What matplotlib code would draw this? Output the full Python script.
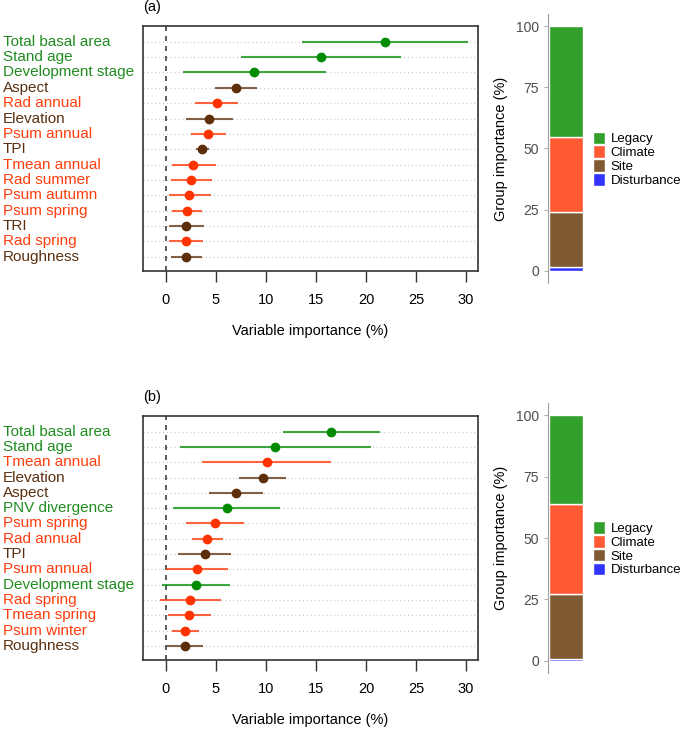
import numpy as np
import matplotlib
matplotlib.use("Agg")
from matplotlib import pyplot as plt
import matplotlib.transforms as mtransforms

plt.rcParams["font.family"] = ["Liberation Sans", "DejaVu Sans"]

# panel (a)
varsA = ["Total basal area", "Stand age", "Development stage", "Aspect", "Rad annual",
         "Elevation", "Psum annual", "TPI", "Tmean annual", "Rad summer", "Psum autumn",
         "Psum spring", "TRI", "Rad spring", "Roughness"]
medA = [21.9, 15.5, 8.8, 7.0, 5.1, 4.3, 4.2, 3.6, 2.7, 2.5, 2.3, 2.1, 2.0, 2.0, 2.0]
lowA = [13.6, 7.5, 1.7, 4.9, 2.9, 2.0, 2.5, 3.0, 0.6, 0.5, 0.3, 0.6, 0.3, 0.3, 0.5]
highA = [30.2, 23.5, 16.0, 9.1, 7.2, 6.7, 6.0, 4.3, 5.0, 4.6, 4.5, 3.6, 3.8, 3.7, 3.6]
groupA = ["Legacy", "Legacy", "Legacy", "Site", "Climate", "Site", "Climate", "Site",
          "Climate", "Climate", "Climate", "Climate", "Site", "Climate", "Site"]

# panel (b)
varsB = ["Total basal area", "Stand age", "Tmean annual", "Elevation", "Aspect",
         "PNV divergence", "Psum spring", "Rad annual", "TPI", "Psum annual",
         "Development stage", "Rad spring", "Tmean spring", "Psum winter", "Roughness"]
medB = [16.5, 10.9, 10.1, 9.7, 7.0, 6.1, 4.9, 4.1, 3.9, 3.1, 3.0, 2.4, 2.3, 1.9, 1.9]
lowB = [11.7, 1.4, 3.6, 7.3, 4.3, 0.7, 2.0, 2.6, 1.2, 0.0, -0.4, -0.6, 0.2, 0.6, 0.1]
highB = [21.4, 20.5, 16.5, 12.0, 9.7, 11.4, 7.8, 5.7, 6.5, 6.2, 6.4, 5.5, 4.5, 3.3, 3.7]
groupB = ["Legacy", "Legacy", "Climate", "Site", "Site", "Legacy", "Climate", "Climate",
          "Site", "Climate", "Legacy", "Climate", "Climate", "Climate", "Site"]

# group importance (stacked bottom to top)
groups = ["Disturbance", "Site", "Climate", "Legacy"]
groupShareA = [1.5, 22.6, 30.6, 45.3]
groupShareB = [0.8, 26.4, 36.6, 36.2]

textCol = {"Legacy": "#1f8c1f", "Climate": "#ff3d0d", "Site": "#5a3010"}
dotCol = {"Legacy": "#008b00", "Climate": "#ff3300", "Site": "#5c2e0a"}
barCol = {"Legacy": "#33a02c", "Climate": "#ff5a33", "Site": "#7f5a33", "Disturbance": "#3333ff"}

W, H = 685, 737
fig = plt.figure(figsize=(W/100, H/100), dpi=100)


def box(x0, y0, x1, y1):
    return [x0/W, 1-y1/H, (x1-x0)/W, (y1-y0)/H]


def dotPlot(ax, names, med, low, high, grp, title):
    n = len(names)
    y = np.arange(n)
    for i in range(n):
        ax.axhline(y[i], color="#c8c8c8", lw=0.8, ls=(0, (1, 2.5)), zorder=0)
    ax.axvline(0, color="#404040", lw=1.2, ls=(0, (3, 3)), zorder=1)
    for i in range(n):
        c = dotCol[grp[i]]
        ax.plot([low[i], high[i]], [y[i], y[i]], color=c, lw=1.5, alpha=0.75, zorder=2,
                solid_capstyle="butt")
        ax.plot(med[i], y[i], "o", color=c, ms=6, zorder=3)
    ax.set_xlim(-2.3, 31.2)
    ax.set_ylim(n - 1 + 0.92, -1.02)
    ax.set_yticks([])
    ax.set_xticks([0, 5, 10, 15, 20, 25, 30])
    ax.tick_params(axis="x", length=8, width=1, color="#333333", labelsize=10.5, pad=8)
    for s in ax.spines.values():
        s.set_color("#333333")
        s.set_linewidth(1.2)
    ax.set_xlabel("Variable importance (%)", fontsize=10.5, labelpad=12)
    trans = mtransforms.blended_transform_factory(fig.transFigure, ax.transData)
    for i in range(n):
        ax.text(3/W, y[i], names[i], transform=trans, ha="left", va="center",
                fontsize=11, color=textCol[grp[i]])
    ax.text(0.0, 1.05, title, transform=ax.transAxes, ha="left", va="bottom", fontsize=10.5)


def groupBar(ax, shares):
    bottom = 0
    for g, v in zip(groups, shares):
        ax.bar(0.5, v, width=0.92, bottom=bottom, color=barCol[g], edgecolor="white",
               linewidth=1.0, label=g)
        bottom += v
    ax.set_xlim(0, 1)
    ax.set_ylim(-4.9, 104.9)
    ax.set_xticks([])
    ax.set_yticks([0, 25, 50, 75, 100])
    ax.tick_params(axis="y", length=3, color="#b0b0b0", labelcolor="#4d4d4d", labelsize=10)
    for k in ["top", "right", "bottom"]:
        ax.spines[k].set_visible(False)
    ax.spines["left"].set_color("#a0a0a0")
    ax.set_ylabel("Group importance (%)", fontsize=10.5, labelpad=6)
    h, l = ax.get_legend_handles_labels()
    ax.legend(h[::-1], l[::-1], loc="center left", bbox_to_anchor=(1.24, 0.46), frameon=False,
              fontsize=9.5, handlelength=0.9, handleheight=1.1, labelspacing=0.0,
              handletextpad=0.45, borderaxespad=0, borderpad=0)


axA = fig.add_axes(box(143, 26, 478, 271))
dotPlot(axA, varsA, medA, lowA, highA, groupA, "(a)")
axB = fig.add_axes(box(143, 416, 478, 660))
dotPlot(axB, varsB, medB, lowB, highB, groupB, "(b)")

gA = fig.add_axes(box(548, 14, 584, 283))
groupBar(gA, groupShareA)
gB = fig.add_axes(box(548, 403, 584, 673))
groupBar(gB, groupShareB)

fig.savefig("out.png", dpi=100)
